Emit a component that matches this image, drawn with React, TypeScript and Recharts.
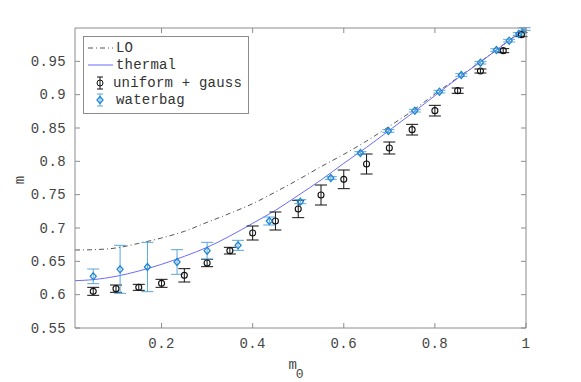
import { ComposedChart, Line, Scatter, ErrorBar, XAxis, YAxis, Legend } from "recharts";

// curves: [m0, m]
const loX = [0.01, 0.05, 0.1, 0.15, 0.2, 0.25, 0.3, 0.35, 0.4, 0.45, 0.5, 0.55, 0.6, 0.65, 0.7, 0.75, 0.8, 0.85, 0.9, 0.95, 1];
const loY = [0.667, 0.6675, 0.67, 0.677, 0.685, 0.695, 0.7085, 0.722, 0.7365, 0.754, 0.7725, 0.792, 0.8105, 0.8305, 0.8525, 0.8755, 0.901, 0.9255, 0.9495, 0.975, 1.0];
const thermalY = [0.621, 0.6225, 0.6275, 0.6355, 0.6455, 0.6575, 0.671, 0.688, 0.707, 0.7265, 0.749, 0.772, 0.797, 0.821, 0.8465, 0.872, 0.8985, 0.9245, 0.949, 0.9745, 0.9995];

// uniform + gauss samples
const ugX = [0.05, 0.1, 0.15, 0.2, 0.25, 0.3, 0.35, 0.4, 0.45, 0.5, 0.55, 0.6, 0.65, 0.7, 0.75, 0.8, 0.85, 0.9, 0.95, 0.99];
const ugY = [0.605, 0.609, 0.611, 0.617, 0.629, 0.6475, 0.666, 0.6925, 0.7105, 0.7285, 0.7495, 0.773, 0.796, 0.82, 0.8475, 0.876, 0.906, 0.9355, 0.966, 0.99];
const ugErr = [0.006, 0.0055, 0.0045, 0.006, 0.01, 0.0055, 0.005, 0.0105, 0.0135, 0.013, 0.015, 0.014, 0.015, 0.009, 0.008, 0.008, 0.004, 0.003, 0.003, 0.003];

// waterbag samples
const wbX = [0.05, 0.109, 0.169, 0.234, 0.3, 0.368, 0.4365, 0.5045, 0.5715, 0.6365, 0.698, 0.756, 0.81, 0.858, 0.9, 0.935, 0.963, 0.984, 0.997];
const wbY = [0.6275, 0.638, 0.6415, 0.649, 0.666, 0.674, 0.7105, 0.7395, 0.775, 0.8125, 0.8455, 0.876, 0.9045, 0.9295, 0.948, 0.967, 0.981, 0.991, 0.9985];
const wbErr = [0.011, 0.036, 0.037, 0.0185, 0.0125, 0.0075, 0.006, 0.003, 0.002, 0.002, 0.002, 0.002, 0.002, 0.002, 0.002, 0.002, 0.002, 0.002, 0.002];

const xTicks = [0.2, 0.4, 0.6, 0.8, 1];
const yTicks = [0.55, 0.6, 0.65, 0.7, 0.75, 0.8, 0.85, 0.9, 0.95];

const loData = loX.map((x, i) => ({ x, y: loY[i] }));
const thermalData = loX.map((x, i) => ({ x, y: thermalY[i] }));
const ugData = ugX.map((x, i) => ({ x, y: ugY[i], err: ugErr[i] }));
const wbData = wbX.map((x, i) => ({ x, y: wbY[i], err: wbErr[i] }));

const FONT = "'Liberation Mono', monospace";
const TXT = "#444";
const AXIS = "#8c8c8c";
const BLUE = "#1f86d0";
const BLUE_BAR = "#5aa6de";
const THERMAL = "#6b6bff";
const LO = "#555555";
const fmt = (v: number) => String(Number(v.toFixed(2)));

const LeftTick = (p: any) => (
  <g>
    <line x1={p.x + 8} x2={p.x + 13} y1={p.y} y2={p.y} stroke={AXIS} />
    <text x={p.x - 1} y={p.y} dy="0.34em" textAnchor="end" fontFamily={FONT} fontSize={14} letterSpacing={0.4} fill={TXT}>
      {fmt(p.payload.value)}
    </text>
  </g>
);
const BottomTick = (p: any) => (
  <g>
    <line x1={p.x} x2={p.x} y1={p.y - 8} y2={p.y - 13} stroke={AXIS} />
    <text x={p.x} y={p.y + 12} textAnchor="middle" fontFamily={FONT} fontSize={14} letterSpacing={0.4} fill={TXT}>
      {fmt(p.payload.value)}
    </text>
  </g>
);
const TopTick = (p: any) => <line x1={p.x} x2={p.x} y1={p.y} y2={p.y + 5} stroke={AXIS} />;
const RightTick = (p: any) => <line x1={p.x} x2={p.x - 5} y1={p.y} y2={p.y} stroke={AXIS} />;

const OpenCircle = (p: any) => <circle cx={p.cx} cy={p.cy} r={3} fill="none" stroke="#111" strokeWidth={1.1} />;
const Diamond = (p: any) => (
  <path
    d={`M${p.cx},${p.cy - 3.5}L${p.cx + 3},${p.cy}L${p.cx},${p.cy + 3.5}L${p.cx - 3},${p.cy}Z`}
    fill="none"
    stroke={BLUE}
    strokeWidth={1.3}
  />
);

const legendItems = [
  { label: "LO", kind: "lo" },
  { label: "thermal", kind: "thermal" },
  { label: "uniform + gauss", kind: "ug" },
  { label: "waterbag", kind: "wb" },
];

const LegendBox = () => (
  <div style={{ border: `1px solid ${AXIS}`, background: "#fff", padding: "2px 6px 4px 3px", fontFamily: FONT, fontSize: 14, letterSpacing: 0.2, color: "#333" }}>
    {legendItems.map((it) => (
      <div key={it.label} style={{ display: "flex", alignItems: "center", height: 17.5 }}>
        <svg width={27} height={14} style={{ marginRight: 2 }}>
          {it.kind === "lo" && <line x1={1} x2={26} y1={7} y2={7} stroke={LO} strokeDasharray="5 3 1 3" />}
          {it.kind === "thermal" && <line x1={1} x2={26} y1={7} y2={7} stroke={THERMAL} />}
          {it.kind === "ug" && (
            <g stroke="#111">
              <line x1={13} x2={13} y1={1} y2={13} />
              <line x1={10} x2={16} y1={1} y2={1} />
              <line x1={10} x2={16} y1={13} y2={13} />
              <circle cx={13} cy={7} r={3} fill="none" />
            </g>
          )}
          {it.kind === "wb" && (
            <g>
              <g stroke={BLUE_BAR}>
                <line x1={13} x2={13} y1={1} y2={13} />
                <line x1={10} x2={16} y1={1} y2={1} />
                <line x1={10} x2={16} y1={13} y2={13} />
              </g>
              <path d="M13,3.5L16,7L13,10.5L10,7Z" fill="none" stroke={BLUE} strokeWidth={1.3} />
            </g>
          )}
        </svg>
        <span style={{ whiteSpace: "pre" }}>{it.label}</span>
      </div>
    ))}
  </div>
);

export default function App() {
  return (
    <div style={{ position: "absolute", left: 0, top: 0, width: 581, height: 382, background: "#fff" }}>
      <ComposedChart width={581} height={382} margin={{ top: 27, right: 54, left: 15, bottom: 24 }}>
        <XAxis
          xAxisId="b"
          dataKey="x"
          type="number"
          domain={[0.01, 1]}
          ticks={xTicks}
          allowDataOverflow
          height={30}
          tickSize={0}
          tickMargin={8}
          tick={<BottomTick />}
          axisLine={{ stroke: AXIS }}
          tickLine={false}
        />
        <XAxis
          xAxisId="t"
          orientation="top"
          dataKey="x"
          type="number"
          domain={[0.01, 1]}
          ticks={xTicks}
          allowDataOverflow
          height={1}
          tickSize={0}
          tickMargin={0}
          tick={<TopTick />}
          axisLine={{ stroke: AXIS }}
          tickLine={false}
        />
        <YAxis
          yAxisId="l"
          dataKey="y"
          type="number"
          domain={[0.55, 1]}
          ticks={yTicks}
          allowDataOverflow
          width={60}
          tickSize={0}
          tickMargin={8}
          tick={<LeftTick />}
          axisLine={{ stroke: AXIS }}
          tickLine={false}
        />
        <YAxis
          yAxisId="r"
          orientation="right"
          dataKey="y"
          type="number"
          domain={[0.55, 1]}
          ticks={yTicks}
          allowDataOverflow
          width={1}
          tickSize={0}
          tickMargin={0}
          tick={<RightTick />}
          axisLine={{ stroke: AXIS }}
          tickLine={false}
        />
        <Legend
          layout="horizontal"
          verticalAlign="middle"
          align="center"
          wrapperStyle={{ left: 83, top: 36, width: 166 }}
          content={<LegendBox />}
        />
        <Line xAxisId="b" yAxisId="l" data={loData} dataKey="y" type="monotone" stroke={LO} strokeWidth={1} strokeDasharray="5 3 1 3" dot={false} isAnimationActive={false} name="LO" />
        <Line xAxisId="b" yAxisId="l" data={thermalData} dataKey="y" type="monotone" stroke={THERMAL} strokeWidth={1} dot={false} isAnimationActive={false} name="thermal" />
        <Scatter xAxisId="b" yAxisId="l" data={ugData} dataKey="y" shape={<OpenCircle />} isAnimationActive={false} name="uniform + gauss">
          <ErrorBar dataKey="err" direction="y" width={6} stroke="#111" strokeWidth={1} isAnimationActive={false} />
        </Scatter>
        <Scatter xAxisId="b" yAxisId="l" data={wbData} dataKey="y" shape={<Diamond />} isAnimationActive={false} name="waterbag">
          <ErrorBar dataKey="err" direction="y" width={6} stroke={BLUE_BAR} strokeWidth={1} isAnimationActive={false} />
        </Scatter>
      </ComposedChart>
      <svg width={581} height={382} style={{ position: "absolute", left: 0, top: 0, pointerEvents: "none" }}>
        <text x={296} y={369} fontFamily={FONT} fontSize={14} fill={TXT} textAnchor="middle">
          m<tspan dx={-1} dy={9} fontSize={13}>0</tspan>
        </text>
        <text x={24} y={180} transform="rotate(-90 24 180)" fontFamily={FONT} fontSize={14} fill={TXT} textAnchor="middle">
          m
        </text>
      </svg>
    </div>
  );
}
